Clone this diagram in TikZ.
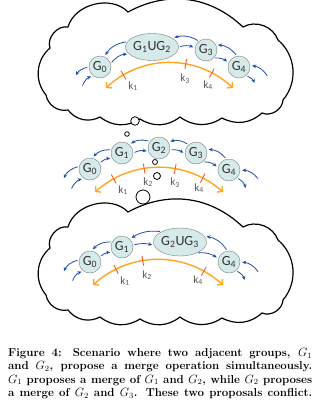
\documentclass[tikz,border=0pt]{standalone}
\usepackage{fontspec}
\newfontfamily\labelfont{Carlito}
\usetikzlibrary{arrows.meta,shapes.geometric}

\definecolor{nodefill}{RGB}{214,234,234}
\definecolor{nodeline}{RGB}{120,130,130}
\definecolor{flowblue}{RGB}{30,80,170}
\definecolor{arcorange}{RGB}{255,165,30}
\definecolor{tickred}{RGB}{255,85,30}
\definecolor{labelgray}{RGB}{85,85,85}

\tikzset{
  gnode/.style={circle, draw=nodeline, fill=nodefill, minimum size=22pt, inner sep=0pt,
    font=\labelfont\fontsize{14}{16}\selectfont, text=black!80},
  mnode/.style={ellipse, draw=nodeline, fill=nodefill, minimum width=44pt, minimum height=27pt,
    inner sep=0pt, font=\labelfont\fontsize{14}{16}\selectfont, text=black!80},
  flow/.style={draw=flowblue, line width=0.8pt, -{Stealth[length=4pt,width=3.6pt]},
    shorten <=1.5pt, shorten >=2pt},
  orangearc/.style={draw=arcorange, line width=1.4pt,
    {Straight Barb[length=3.5pt,width=8pt]}-{Straight Barb[length=3.5pt,width=8pt]}},
  tickmark/.style={draw=tickred, line width=0.9pt, sloped, rectangle, minimum height=10pt,
    minimum width=0pt, inner sep=0pt},
  klabel/.style={font=\labelfont\fontsize{11}{13}\selectfont, text=labelgray, inner sep=0pt},
  cloudline/.style={draw=black, line width=1.2pt, fill=white},
  bubble/.style={circle, draw=black, line width=0.8pt, fill=white, inner sep=0pt},
  captext/.style={inner sep=0pt, font=\fontsize{11.5}{13.3}\selectfont\bfseries}
}

% outline of one thought cloud (top one; the lower one is shifted)
\newcommand{\cloudoutline}{(46,-95) to[bend left=45] (50,-48) to[bend left=60] (68,-27)
  to[bend left=60] (128,-12) to[bend left=36] (243,-27) to[bend left=50] (278,-40)
  to[bend left=45] (283,-100) to[bend left=55] (262,-113) to[bend left=35] (222,-118)
  to[bend left=35] (180,-117) to[bend left=35] (140,-119) to[bend left=35] (100,-117)
  to[bend left=40] (68,-110) to[bend left=45] (46,-95) -- cycle}

\begin{document}
\begin{tikzpicture}[x=1pt,y=1pt]
  \useasboundingbox (0,0) rectangle (322,-400);

  % clouds
  \draw[cloudline] \cloudoutline;
  \begin{scope}[yshift=-200pt]
    \draw[cloudline] \cloudoutline;
  \end{scope}

  % thought bubbles
  \node[bubble, minimum size=8.6pt] (b1) at (135,-121) {};
  \node[bubble, minimum size=4.6pt] (b2) at (127,-134) {};
  \node[bubble, minimum size=5pt] (b3) at (155,-162) {};
  \node[bubble, minimum size=7pt] (b4) at (157,-176) {};
  \node[bubble, minimum size=14pt] (b5) at (143,-197) {};

  % top: G1 and G2 merged
  \node[gnode] (g0a) at (100,-67) {G\textsubscript{0}};
  \node[mnode] (u12) at (152,-47) {G\textsubscript{1}UG\textsubscript{2}};
  \node[gnode] (g3a) at (206,-50) {G\textsubscript{3}};
  \node[gnode] (g4a) at (239,-67) {G\textsubscript{4}};
  \coordinate (l1a) at (75,-77);  \coordinate (l2a) at (82,-87);
  \coordinate (r1a) at (268,-77); \coordinate (r2a) at (255,-85);
  \coordinate (oa1) at (106,-88); \coordinate (oa2) at (233,-88);
  \draw[flow] (u12.168) to[bend right=25] (g0a.67);
  \draw[flow] (g0a.17) to[bend left=25] (u12.197);
  \draw[flow] (g0a.180) to[bend right=25] (l1a);
  \draw[flow] (l2a) to[bend left=25] (g0a.232);
  \draw[flow] (u12.0) to[bend left=20] (g3a.170);
  \draw[flow] (g3a.129) to[bend right=25] (u12.23);
  \draw[flow] (g3a.-45) to[bend left=20] (g4a.158);
  \draw[flow] (g4a.101) to[bend right=25] (g3a.27);
  \draw[flow] (r1a) to[bend right=25] (g4a.8);
  \draw[flow] (g4a.-51) to[bend left=25] (r2a);
  \draw[orangearc] (oa1) to[bend left=43] node[tickmark, pos=0.15] {}
    node[tickmark, pos=0.62] {} node[tickmark, pos=0.82] {} (oa2);
  \node[klabel] (k1a) at (133,-86) {k\textsubscript{1}};
  \node[klabel] (k3a) at (185,-79) {k\textsubscript{3}};
  \node[klabel] (k4a) at (208,-85) {k\textsubscript{4}};

  % middle: five groups
  \node[gnode] (g0b) at (90,-169) {G\textsubscript{0}};
  \node[gnode] (g1b) at (122,-153) {G\textsubscript{1}};
  \node[gnode] (g2b) at (159,-148) {G\textsubscript{2}};
  \node[gnode] (g3b) at (196,-153) {G\textsubscript{3}};
  \node[gnode] (g4b) at (229,-170) {G\textsubscript{4}};
  \coordinate (l1b) at (63,-180);  \coordinate (l2b) at (71,-190);
  \coordinate (r1b) at (259,-180); \coordinate (r2b) at (246,-190);
  \coordinate (ob1) at (95,-192);  \coordinate (ob2) at (223,-192);
  \draw[flow] (g1b.163) to[bend right=25] (g0b.78);
  \draw[flow] (g0b.31) to[bend left=20] (g1b.209);
  \draw[flow] (g0b.166) to[bend right=25] (l1b);
  \draw[flow] (l2b) to[bend left=25] (g0b.236);
  \draw[flow] (g2b.144) to[bend right=25] (g1b.48);
  \draw[flow] (g1b.0) to[bend left=20] (g2b.200);
  \draw[flow] (g2b.-10) to[bend left=20] (g3b.185);
  \draw[flow] (g3b.132) to[bend right=25] (g2b.32);
  \draw[flow] (g3b.-52) to[bend left=20] (g4b.169);
  \draw[flow] (g4b.104) to[bend right=25] (g3b.18);
  \draw[flow] (r1b) to[bend right=25] (g4b.0);
  \draw[flow] (g4b.-45) to[bend left=25] (r2b);
  \draw[orangearc] (ob1) to[bend left=41] node[tickmark, pos=0.157] {}
    node[tickmark, pos=0.39] {} node[tickmark, pos=0.62] {}
    node[tickmark, pos=0.83] {} (ob2);
  \node[klabel] (k1b) at (123,-190) {k\textsubscript{1}};
  \node[klabel] (k2b) at (148,-182) {k\textsubscript{2}};
  \node[klabel] (k3b) at (175,-183) {k\textsubscript{3}};
  \node[klabel] (k4b) at (199,-188) {k\textsubscript{4}};

  % bottom: G2 and G3 merged
  \node[gnode] (g0c) at (90,-262) {G\textsubscript{0}};
  \node[gnode] (g1c) at (122,-247) {G\textsubscript{1}};
  \node[mnode, minimum height=28pt] (u23) at (180,-242) {G\textsubscript{2}UG\textsubscript{3}};
  \node[gnode] (g4c) at (229,-262) {G\textsubscript{4}};
  \coordinate (l1c) at (63,-273);  \coordinate (l2c) at (72,-282);
  \coordinate (r1c) at (259,-273); \coordinate (r2c) at (245,-282);
  \coordinate (oc1) at (93,-285);  \coordinate (oc2) at (223,-285);
  \draw[flow] (g1c.153) to[bend right=25] (g0c.82);
  \draw[flow] (g0c.27) to[bend left=20] (g1c.209);
  \draw[flow] (g0c.169) to[bend right=25] (l1c);
  \draw[flow] (l2c) to[bend left=25] (g0c.234);
  \draw[flow] (u23.151) to[bend right=20] (g1c.45);
  \draw[flow] (g1c.10) to[bend left=15] (u23.188);
  \draw[flow] (u23.-33) to[bend left=20] (g4c.163);
  \draw[flow] (g4c.99) to[bend right=25] (u23.13);
  \draw[flow] (r1c) to[bend right=25] (g4c.0);
  \draw[flow] (g4c.-51) to[bend left=25] (r2c);
  \draw[orangearc] (oc1) to[bend left=42] node[tickmark, pos=0.19] {}
    node[tickmark, pos=0.39] {} node[tickmark, pos=0.84] {} (oc2);
  \node[klabel] (k1c) at (125,-281) {k\textsubscript{1}};
  \node[klabel] (k2c) at (147,-275) {k\textsubscript{2}};
  \node[klabel] (k4c) at (198,-280) {k\textsubscript{4}};

  % caption
  \node[captext, anchor=north west] (cap) at (8,-348) {\parbox{304pt}{%
    \hbox to\hsize{Figure 4: Scenario where two adjacent groups, $G_1$}%
    \hbox to\hsize{and $G_2$, propose a merge operation simultaneously.}%
    \hbox to\hsize{$G_1$ proposes a merge of $G_1$ and $G_2$, while $G_2$ proposes}%
    \hbox to\hsize{a merge of $G_2$ and $G_3$. These two proposals conflict.}}};
\end{tikzpicture}
\end{document}
